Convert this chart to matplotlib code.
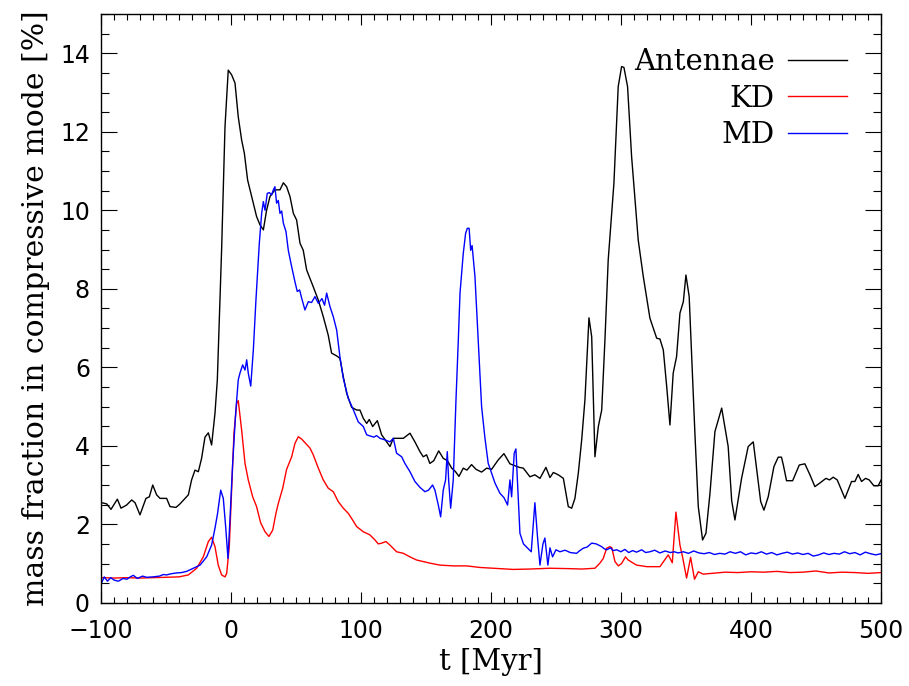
import matplotlib
matplotlib.use("Agg")
import matplotlib.pyplot as plt
from matplotlib.ticker import MultipleLocator

# Antennae (black)
t_ant = [-99.5, -95.6, -92.3, -87.4, -84.6, -80.3, -76.4, -73.8, -70, -65.4, -62.8, -60.2, -57.2, -54.6,
         -49.5, -46.9, -42.3, -39.2, -32.8, -30.3, -27.7, -25.1, -22.6, -20, -17.4, -14.9, -12.3, -10.5,
         -7.2, -4.6, -2.1, 0.5, 3.1, 5.6, 8.2, 10.3, 12.8, 15.9, 19.7, 22.3, 24.9, 27.4, 30, 33.8, 37.7,
         40.3, 42.8, 45.4, 48, 50.5, 53.1, 55.6, 58.2, 63.3, 67.2, 71, 74.8, 77.4, 81.3, 83.8, 86.4, 89,
         92.8, 96.7, 99.2, 101.8, 104.4, 106.4, 109, 112.6, 115.9, 119.7, 122.3, 124.9, 128.7, 132.6,
         137.7, 141.5, 145.4, 147.9, 150.5, 153, 156, 159.8, 163.3, 166.5, 169.8, 172.5, 175.4, 178.7,
         181.5, 185.1, 188.5, 192.8, 196.7, 200.5, 205.6, 210, 214.6, 218.5, 221.8, 224.9, 230, 233.8,
         237.7, 242.3, 245.4, 248, 251.8, 255.7, 259.5, 262.1, 264.6, 267.2, 269.8, 272.3, 275.4, 277.5,
         280, 282.6, 285.2, 287.7, 290.2, 294.6, 297.9, 300.5, 302.3, 305.1, 308.2, 313.3, 317.2, 322.3,
         327.5, 330, 332.6, 335.2, 337.7, 340.2, 342.8, 345.4, 348, 350, 352.5, 356.9, 359.5, 362.8,
         365.4, 368.5, 372.3, 377.5, 382.5, 385.2, 387.7, 392.8, 397.9, 401.8, 407.5, 410, 413.3, 417.7,
         421, 423.5, 425, 427.4, 432.1, 437.2, 441.5, 445.4, 449.2, 453, 457.7, 460.5, 463.3, 466.4,
         472.3, 477.4, 480, 482.5, 485.1, 488.2, 491, 494.6, 497.9, 500.5]
y_ant = [2.55, 2.52, 2.38, 2.64, 2.41, 2.49, 2.62, 2.55, 2.24, 2.66, 2.70, 3.0, 2.75, 2.66,
         2.66, 2.45, 2.43, 2.52, 2.75, 3.13, 3.38, 3.34, 3.68, 4.22, 4.33, 4.02, 4.83, 5.68,
         9.0, 12.13, 13.57, 13.45, 13.24, 12.38, 11.79, 11.45, 10.77, 10.35, 9.84, 9.63, 9.5, 10.0, 10.35, 10.52, 10.52,
         10.70, 10.6, 10.35, 9.92, 9.75, 9.16, 8.98, 8.48, 8.05, 7.71, 7.29, 6.82, 6.36, 6.29, 6.23, 5.76, 5.34,
         4.98, 4.91, 4.91, 4.70, 4.57, 4.67, 4.49, 4.64, 4.28, 4.10, 3.98, 4.19, 4.19, 4.19,
         4.32, 4.10, 3.85, 3.72, 3.77, 3.55, 3.62, 3.87, 3.68, 3.62, 3.43, 3.35, 3.22, 3.43,
         3.38, 3.52, 3.40, 3.33, 3.43, 3.40, 3.64, 3.80, 3.54, 3.49, 3.45, 3.43, 3.21, 3.26,
         3.17, 3.45, 3.19, 3.32, 3.26, 3.17, 2.45, 2.41, 2.66, 3.30, 4.15, 5.17, 7.26, 6.78,
         3.72, 4.49, 4.91, 6.70, 8.73, 10.69, 13.15, 13.66, 13.64, 13.15, 11.37, 9.24, 8.31, 7.25,
         6.74, 6.72, 6.44, 5.51, 4.53, 5.85, 6.27, 7.38, 7.67, 8.35, 7.8, 4.32, 2.45, 1.60,
         1.77, 2.79, 4.36, 4.96, 3.98, 2.60, 2.11, 3.17, 3.98, 4.10, 2.58, 2.36, 2.70, 3.47,
         3.71, 3.71, 3.5, 3.11, 3.11, 3.51, 3.54, 3.26, 2.96, 3.05, 3.17, 3.13, 3.20, 3.13,
         2.66, 3.09, 3.09, 3.27, 3.09, 3.17, 3.13, 2.98, 2.98, 3.15]

# KD (red)
t_kd = [-99.5, -90, -80, -70, -60, -50, -40, -32.8, -26.4, -21.3, -17.4, -14.9, -12.3, -9.8, -7.2, -4.6,
        -3.3, -1.3, 0.5, 2.3, 4.4, 5.6, 8.2, 10.8, 13.3, 16.7, 19.7, 22.8, 26.2, 29.2, 32.1, 34.6, 36.4,
        39.8, 42.8, 46.7, 49.2, 51.8, 54.4, 56.9, 60.8, 63.3, 67.2, 71, 74.8, 78.7, 82.5, 86.4, 90.2,
        92.8, 96.7, 101.8, 106.9, 110.8, 113.3, 116, 119.2, 122.3, 127.4, 132.6, 137.7, 142.8, 147.9,
        153, 160.8, 171, 181.3, 191.5, 201.8, 217.2, 230, 245.4, 260, 270, 280, 283.8, 286.4, 289,
        291.5, 293, 295.4, 298, 300.5, 303.5, 305.6, 308, 312, 320, 330, 336.4, 339.5, 342.3, 345.4,
        347.4, 350.5, 353.6, 356.6, 359.5, 363.3, 370, 380, 390, 400, 410, 420, 430, 440, 450, 460,
        470, 480, 490, 500]
y_kd = [0.64, 0.63, 0.64, 0.63, 0.64, 0.65, 0.66, 0.71, 0.88, 1.17, 1.56, 1.67, 1.43, 0.96, 0.71, 0.66,
        0.75, 1.43, 2.87, 4.32, 5.08, 5.15, 4.40, 3.55, 3.13, 2.70, 2.45, 2.04, 1.81, 1.69, 1.85, 2.28, 2.53,
        2.92, 3.40, 3.72, 4.06, 4.23, 4.17, 4.08, 3.94, 3.77, 3.43, 3.13, 2.92, 2.83, 2.58, 2.41, 2.28,
        2.15, 1.94, 1.81, 1.73, 1.60, 1.50, 1.52, 1.56, 1.47, 1.30, 1.26, 1.17, 1.09, 1.05,
        1.01, 0.96, 0.94, 0.94, 0.90, 0.88, 0.85, 0.86, 0.88, 0.87, 0.86, 0.88, 1.01, 1.13, 1.39,
        1.43, 1.40, 1.05, 0.94, 1.0, 1.17, 1.09, 1.04, 0.96, 0.92, 0.92, 1.22, 1.02, 2.31, 1.47,
        1.17, 0.63, 1.16, 0.60, 0.79, 0.73, 0.75, 0.78, 0.77, 0.79, 0.78, 0.80, 0.77, 0.78, 0.81, 0.76,
        0.78, 0.77, 0.75, 0.77]

# MD (blue)
t_md = [-99.5, -97.5, -95, -92.5, -90, -86.7, -83, -80, -77.5, -75.1, -72, -68, -65, -60, -55, -52, -49.5,
        -46, -42, -38, -34.1, -29, -23.8, -18.7, -14.9, -12.3, -10.3, -7.9, -5.9, -4.1, -2.3, -0.8, 1.3,
        3.6, 5.6, 6.9, 9, 10.8, 12.1, 13.3, 15.2, 17.2, 19.2, 21.8, 23.6, 24.9, 26.2, 27.9, 29.5, 31.3,
        32.6, 33.8, 35.1, 36.4, 37.7, 39, 40.3, 42.3, 44.1, 46.7, 49.2, 51, 52.8, 54.4, 56.9, 59.5, 62,
        64.6, 67.2, 70, 72, 73.6, 76.2, 78.7, 81.3, 83.8, 86.4, 90.2, 93.6, 97.9, 101.8, 104.4, 107, 110,
        112, 114.6, 118.5, 122.3, 124.9, 127.4, 131.3, 133.8, 137.7, 141.5, 145.4, 149.2, 152, 155.1,
        156.9, 159.5, 161.3, 163.3, 165.1, 166.4, 167.5, 169, 171, 173.1, 174.9, 176.2, 177.4, 178.7,
        180.5, 181.8, 183.2, 184.4, 185.5, 187.7, 190.2, 192.8, 195.4, 197.9, 199.2, 203.1, 206.9, 210,
        212.8, 214.6, 215.9, 217.9, 219.2, 220.5, 222.3, 225, 228, 231, 233.8, 236, 237.7, 240, 241.5,
        243.8, 245.4, 247.4, 250, 253.1, 257, 261, 265.9, 268, 271, 274, 277.5, 281, 285.2, 287, 289,
        292, 294, 296.7, 300, 303, 306, 309, 312, 316, 319, 322.3, 326, 330, 334, 338, 341, 344, 348,
        352, 356, 360, 364, 368, 372, 376, 380, 384, 388, 392, 396, 400, 404, 408, 412, 416, 420, 424,
        428, 432, 436, 440, 444, 448, 452, 456, 460, 464, 468, 472, 476, 480, 484, 488, 492, 496, 500]
y_md = [0.51, 0.66, 0.55, 0.64, 0.58, 0.55, 0.62, 0.60, 0.66, 0.70, 0.62, 0.68, 0.65, 0.66, 0.68, 0.72, 0.71,
        0.74, 0.76, 0.77, 0.80, 0.88, 0.96, 1.17, 1.47, 1.90, 2.28, 2.87, 2.66, 1.94, 1.13, 2.11, 3.55,
        4.83, 5.68, 5.85, 6.06, 5.93, 6.19, 5.85, 5.52, 6.44, 7.71, 9.16, 9.92, 10.22, 10.0, 10.43, 10.45, 10.39,
        10.52, 10.60, 10.18, 10.25, 9.92, 9.98, 9.67, 9.46, 8.98, 8.56, 8.18, 7.93, 7.97, 7.76, 7.46, 7.67, 7.65,
        7.80, 7.63, 7.75, 7.58, 7.89, 7.54, 7.29, 6.95, 6.27, 5.72, 5.21, 4.96, 4.61, 4.49, 4.28, 4.25, 4.22,
        4.26, 4.19, 4.15, 4.10, 4.19, 3.81, 3.72, 3.55, 3.34, 3.09, 2.94, 2.83, 2.87, 3.0,
        2.87, 2.49, 2.19, 2.87, 3.13, 3.85, 3.1, 2.41, 3.13, 5.17, 6.70, 7.89, 8.39, 8.90,
        9.41, 9.54, 9.54, 8.98, 9.1, 8.31, 6.70, 5.0, 4.19, 3.55, 3.43, 3.05, 2.79, 2.68,
        2.49, 3.13, 2.70, 3.81, 3.92, 3.0, 1.77, 1.5, 1.4, 1.3, 2.55, 1.6, 0.96, 1.5, 1.65,
        0.96, 1.40, 1.17, 1.35, 1.30, 1.34, 1.28, 1.26, 1.32, 1.39, 1.42, 1.52, 1.50, 1.43, 1.38, 1.35,
        1.40, 1.33, 1.35, 1.30, 1.36, 1.28, 1.33, 1.29, 1.35, 1.28, 1.30, 1.34, 1.27, 1.32, 1.28, 1.30, 1.27, 1.30,
        1.26, 1.32, 1.27, 1.25, 1.28, 1.23, 1.26, 1.24, 1.30, 1.26, 1.30, 1.22, 1.27, 1.25, 1.30, 1.24, 1.28, 1.22, 1.26,
        1.29, 1.24, 1.27, 1.23, 1.26, 1.19, 1.22, 1.27, 1.23, 1.26, 1.24, 1.30, 1.25, 1.28, 1.22, 1.29, 1.25, 1.22, 1.25]

fig = plt.figure(figsize=(9.09, 6.86), dpi=100)
ax = fig.add_axes([0.1111, 0.1213, 0.858, 0.8583])

ax.plot(t_ant, y_ant, color="black", lw=1.0, label="Antennae")
ax.plot(t_kd, y_kd, color="red", lw=1.0, label="KD")
ax.plot(t_md, y_md, color="blue", lw=1.0, label="MD")

ax.set_xlim(-100, 500)
ax.set_ylim(0, 15)
ax.xaxis.set_major_locator(MultipleLocator(100))
ax.xaxis.set_minor_locator(MultipleLocator(10))
ax.yaxis.set_major_locator(MultipleLocator(2))
ax.yaxis.set_minor_locator(MultipleLocator(0.5))

ax.tick_params(axis="both", which="both", direction="in", top=True, right=True, width=0.8)
ax.tick_params(axis="x", which="major", length=8, pad=12, labelsize=17)
ax.tick_params(axis="x", which="minor", length=4.3)
ax.tick_params(axis="y", which="major", length=11.3, pad=8, labelsize=17)
ax.tick_params(axis="y", which="minor", length=5.8)
for sp in ax.spines.values():
    sp.set_linewidth(1.0)

ax.set_xlabel("t [Myr]", family="DejaVu Serif", fontsize=21, labelpad=3)
ax.set_ylabel("mass fraction in compressive mode [%]", family="DejaVu Serif", fontsize=21.5, labelpad=7)

leg = ax.legend(loc="upper right", bbox_to_anchor=(0.956, 0.9426), frameon=False, markerfirst=False,
                borderpad=0, borderaxespad=0, handlelength=2.02, handletextpad=0.45,
                labelspacing=0.3, prop={"family": "DejaVu Serif", "size": 21})

fig.savefig("out.png", dpi=100)
